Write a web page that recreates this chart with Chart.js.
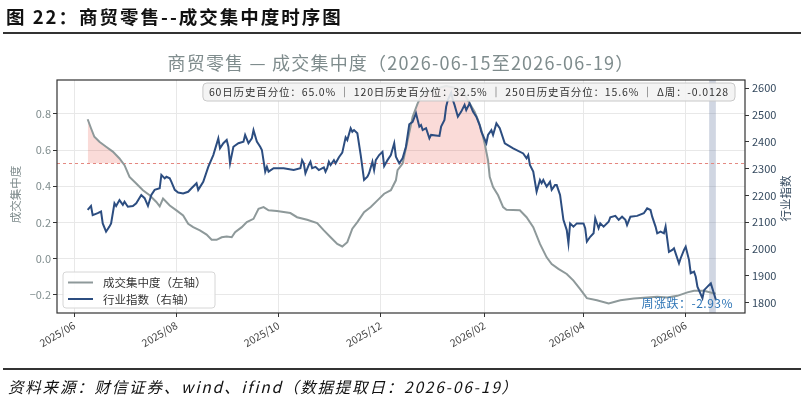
<!DOCTYPE html>
<html>
<head>
<meta charset="utf-8">
<script src="https://cdn.jsdelivr.net/npm/chart.js@4.4.1/dist/chart.umd.min.js"></script>
<style>
  body { margin: 0; background: #fff; width: 804px; height: 402px; overflow: hidden; position: relative; font-family: "Noto Sans CJK SC", sans-serif; }
  #chart { position: absolute; left: 0; top: 0; }
  #head { position: absolute; left: 6px; top: 3px; font-size: 18.5px; font-weight: bold; color: #111; white-space: nowrap; letter-spacing: 2px; }
  .rule { position: absolute; left: 3px; width: 798px; height: 2px; background: #333; }
  #foot { position: absolute; left: 8px; top: 375px; font-size: 15.5px; font-style: italic; color: #111; letter-spacing: 1.8px; white-space: nowrap; }
</style>
</head>
<body>
<canvas id="chart" width="804" height="402"></canvas>
<div id="head">图 22：商贸零售--成交集中度时序图</div>
<div class="rule" style="top:32px"></div>
<div class="rule" style="top:368px"></div>
<div id="foot">资料来源：财信证券、wind、ifind（数据提取日：2026-06-19）</div>
<script>
// 行业指数（右轴）
const indexDates = [
  '2025-06-09','2025-06-11','2025-06-12','2025-06-15','2025-06-17','2025-06-18','2025-06-20','2025-06-22','2025-06-23','2025-06-25',
  '2025-06-26','2025-06-28','2025-06-30','2025-07-01','2025-07-03','2025-07-06','2025-07-08','2025-07-11','2025-07-13','2025-07-15',
  '2025-07-17','2025-07-19','2025-07-22','2025-07-23','2025-07-25','2025-07-26','2025-07-28','2025-07-29','2025-07-31','2025-08-02',
  '2025-08-05','2025-08-08','2025-08-10','2025-08-13','2025-08-14','2025-08-17','2025-08-20','2025-08-23','2025-08-26','2025-08-27',
  '2025-08-29','2025-08-31','2025-09-01','2025-09-02','2025-09-04','2025-09-07','2025-09-10','2025-09-11','2025-09-13','2025-09-15',
  '2025-09-16','2025-09-18','2025-09-20','2025-09-21','2025-09-23','2025-09-24','2025-09-25','2025-09-28','2025-10-04','2025-10-10',
  '2025-10-14','2025-10-15','2025-10-16','2025-10-17','2025-10-19','2025-10-20','2025-10-21','2025-10-23','2025-10-25','2025-10-28',
  '2025-10-29','2025-10-30','2025-10-31','2025-11-01','2025-11-03','2025-11-04','2025-11-06','2025-11-08','2025-11-10','2025-11-11',
  '2025-11-13','2025-11-14','2025-11-15','2025-11-17','2025-11-19','2025-11-21','2025-11-23','2025-11-24','2025-11-26','2025-11-27',
  '2025-11-28','2025-11-30','2025-12-02','2025-12-03','2025-12-05','2025-12-07','2025-12-09','2025-12-10','2025-12-12','2025-12-14',
  '2025-12-16','2025-12-18','2025-12-20','2025-12-22','2025-12-24','2025-12-25','2025-12-26','2025-12-28','2025-12-30','2025-12-31',
  '2026-01-05','2026-01-06','2026-01-08','2026-01-09','2026-01-10','2026-01-12','2026-01-13','2026-01-14','2026-01-16','2026-01-18',
  '2026-01-20','2026-01-21','2026-01-23','2026-01-25','2026-01-27','2026-01-29','2026-01-30','2026-02-02','2026-02-03','2026-02-05',
  '2026-02-06','2026-02-08','2026-02-10','2026-02-13','2026-02-18','2026-02-24','2026-02-26','2026-02-27','2026-02-28','2026-03-02',
  '2026-03-04','2026-03-06','2026-03-07','2026-03-08','2026-03-10','2026-03-12','2026-03-13','2026-03-15','2026-03-16','2026-03-18',
  '2026-03-20','2026-03-22','2026-03-23','2026-03-24','2026-03-26','2026-03-28','2026-03-30','2026-04-01','2026-04-02','2026-04-03',
  '2026-04-05','2026-04-07','2026-04-08','2026-04-10','2026-04-11','2026-04-13','2026-04-16','2026-04-17','2026-04-20','2026-04-22',
  '2026-04-24','2026-04-26','2026-04-27','2026-04-29','2026-05-03','2026-05-07','2026-05-09','2026-05-11','2026-05-12','2026-05-14',
  '2026-05-15','2026-05-17','2026-05-19','2026-05-20','2026-05-22','2026-05-24','2026-05-25','2026-05-26','2026-05-28','2026-05-29',
  '2026-05-31','2026-06-01','2026-06-03','2026-06-04','2026-06-06','2026-06-07','2026-06-08','2026-06-11','2026-06-12','2026-06-14',
  '2026-06-15','2026-06-16','2026-06-19'
];
const indexValues = [
  2146,2161,2127,2134,2140,2096,2065,2084,2096,2171,
  2161,2183,2165,2177,2158,2161,2171,2202,2190,2161,
  2202,2221,2227,2277,2264,2270,2264,2251,2221,2211,
  2208,2214,2227,2246,2221,2251,2307,2351,2413,2376,
  2395,2407,2382,2320,2382,2395,2401,2426,2395,2413,
  2444,2401,2382,2370,2289,2307,2289,2302,2302,2295,
  2302,2332,2320,2283,2314,2326,2302,2307,2295,2305,
  2289,2302,2326,2314,2332,2320,2343,2360,2417,2407,
  2451,2438,2444,2432,2351,2258,2270,2283,2326,2295,
  2332,2351,2363,2310,2332,2351,2395,2345,2320,2339,
  2382,2466,2475,2507,2457,2463,2444,2451,2413,2426,
  2422,2457,2482,2531,2556,2584,2556,2538,2494,2513,
  2538,2519,2544,2513,2494,2463,2438,2395,2426,2444,
  2426,2469,2451,2395,2376,2357,2339,2351,2314,2289,
  2214,2258,2246,2258,2233,2251,2221,2239,2239,2202,
  2109,2071,2022,2096,2084,2096,2096,2096,2078,2028,
  2046,2059,2115,2078,2096,2084,2102,2119,2124,2109,
  2121,2109,2090,2121,2124,2134,2152,2146,2121,2084,
  2059,2065,2059,2084,1990,1997,2003,1984,1947,1966,
  1997,2009,1959,1910,1916,1897,1860,1817,1847,1860,
  1866,1872,1811
];

// 成交集中度（左轴）
const concDates = [
  '2025-06-09','2025-06-11','2025-06-13','2025-06-16','2025-06-20','2025-06-24','2025-06-28','2025-07-01','2025-07-04','2025-07-08',
  '2025-07-12','2025-07-16','2025-07-20','2025-07-22','2025-07-24','2025-07-28','2025-08-01','2025-08-05','2025-08-08','2025-08-11',
  '2025-08-15','2025-08-19','2025-08-22','2025-08-25','2025-08-28','2025-08-31','2025-09-03','2025-09-05','2025-09-09','2025-09-12',
  '2025-09-16','2025-09-19','2025-09-22','2025-09-25','2025-09-30','2025-10-08','2025-10-12','2025-10-18','2025-10-24','2025-10-28',
  '2025-11-01','2025-11-05','2025-11-08','2025-11-11','2025-11-14','2025-11-17','2025-11-21','2025-11-25','2025-11-29','2025-12-03',
  '2025-12-07','2025-12-10','2025-12-11','2025-12-14','2025-12-16','2025-12-20','2025-12-23','2025-12-25','2025-12-28','2025-12-31',
  '2026-01-05','2026-01-09','2026-01-14','2026-01-19','2026-01-23','2026-01-26','2026-01-28','2026-01-30','2026-02-01','2026-02-03',
  '2026-02-04','2026-02-06','2026-02-09','2026-02-12','2026-02-14','2026-02-22','2026-02-26','2026-03-02','2026-03-06','2026-03-10',
  '2026-03-13','2026-03-17','2026-03-22','2026-03-26','2026-03-30','2026-04-03','2026-04-09','2026-04-16','2026-04-23','2026-05-01',
  '2026-05-09','2026-05-15','2026-05-21','2026-05-27','2026-06-02','2026-06-06','2026-06-12','2026-06-18','2026-06-19'
];
const concValues = [
  0.771,0.721,0.674,0.646,0.619,0.592,0.554,0.517,0.452,0.415,
  0.378,0.350,0.313,0.289,0.332,0.294,0.267,0.239,0.193,0.174,
  0.156,0.133,0.104,0.104,0.118,0.122,0.118,0.146,0.174,0.202,
  0.220,0.276,0.285,0.267,0.263,0.252,0.229,0.215,0.196,0.156,
  0.118,0.081,0.067,0.091,0.165,0.202,0.257,0.285,0.322,0.359,
  0.378,0.433,0.489,0.526,0.610,0.785,0.859,0.896,0.915,0.930,
  0.945,0.955,0.945,0.925,0.859,0.813,0.767,0.711,0.637,0.544,
  0.452,0.396,0.350,0.285,0.270,0.267,0.229,0.174,0.081,0.007,
  -0.030,-0.057,-0.085,-0.122,-0.169,-0.219,-0.230,-0.248,-0.230,-0.221,
  -0.215,-0.211,-0.215,-0.206,-0.187,-0.178,-0.178,-0.193,-0.191
];

const THRESHOLD = 0.526;               // 红色虚线
const leftTicks = [-0.2, 0, 0.2, 0.4, 0.6, 0.8];
const leftTickLabels = ['\u22120.2', '0.0', '0.2', '0.4', '0.6', '0.8'];
const rightTicks = [1800, 1900, 2000, 2100, 2200, 2300, 2400, 2500, 2600];
const monthTicks = ['2025-06-01','2025-08-01','2025-10-01','2025-12-01','2026-02-01','2026-04-01','2026-06-01'];
const weekStart = '2026-06-15';
const weekEnd = '2026-06-19';
const chartTitle = '商贸零售 — 成交集中度（2026-06-15至2026-06-19）';
const statsText = '60日历史百分位：65.0% ｜ 120日历史百分位：32.5% ｜ 250日历史百分位：15.6% ｜ Δ周：-0.0128';
const weekChangeText = '周涨跌：-2.93%';
const legendLabels = ['成交集中度（左轴）', '行业指数（右轴）'];

const DAY = 86400000;
function ts(s) { return Date.parse(s + 'T00:00:00Z'); }

const xMin = ts('2025-05-21') + 0.7 * DAY;
const xMax = ts('2026-07-06') + 0.4 * DAY;

const GRAY = '#8e999a';
const BLUE = '#2c4d80';
const FONT = '"Noto Sans CJK SC", sans-serif';

// 叠加层：本周区间、外框、标题、轴标题、图例、统计框
const overlay = {
  id: 'overlay',
  beforeDatasetsDraw(chart) {
    const { ctx, chartArea: a, scales } = chart;
    const x0 = scales.x.getPixelForValue(ts(weekStart));
    const x1 = scales.x.getPixelForValue(ts(weekEnd));
    ctx.save();
    ctx.fillStyle = 'rgba(100,120,160,0.3)';
    ctx.fillRect(x0, a.top, x1 - x0, a.bottom - a.top);
    ctx.restore();
  },
  afterDraw(chart) {
    const { ctx, chartArea: a } = chart;
    ctx.save();

    // 外框
    ctx.strokeStyle = '#333';
    ctx.lineWidth = 1.2;
    ctx.strokeRect(a.left, a.top, a.right - a.left, a.bottom - a.top);

    // 标题
    ctx.fillStyle = '#7f8c8d';
    ctx.font = '18px ' + FONT;
    ctx.letterSpacing = '1.2px';
    ctx.textAlign = 'center';
    ctx.textBaseline = 'middle';
    ctx.fillText(chartTitle, (a.left + a.right) / 2, 63);
    ctx.letterSpacing = '0px';

    // 轴标题
    ctx.font = '11.5px ' + FONT;
    ctx.save();
    ctx.translate(16, (a.top + a.bottom) / 2 - 2);
    ctx.rotate(-Math.PI / 2);
    ctx.fillStyle = '#7f8c8d';
    ctx.fillText('成交集中度', 0, 0);
    ctx.restore();
    ctx.save();
    ctx.translate(786, (a.top + a.bottom) / 2 + 2);
    ctx.rotate(-Math.PI / 2);
    ctx.fillStyle = '#34495e';
    ctx.fillText('行业指数', 0, 0);
    ctx.restore();

    // 统计框
    ctx.font = '10.5px ' + FONT;
    ctx.letterSpacing = '0.85px';
    const tw = ctx.measureText(statsText).width;
    const bx1 = a.right - 10, bx0 = bx1 - tw - 12, by0 = a.top + 3, bh = 18;
    ctx.beginPath();
    ctx.roundRect(bx0, by0, bx1 - bx0, bh, 4);
    ctx.fillStyle = 'rgba(242,242,242,0.88)';
    ctx.fill();
    ctx.strokeStyle = '#c8c8c8';
    ctx.lineWidth = 1;
    ctx.stroke();
    ctx.fillStyle = '#333';
    ctx.textAlign = 'right';
    ctx.fillText(statsText, bx1 - 6, by0 + bh / 2 + 0.5);

    // 周涨跌
    ctx.font = '12px ' + FONT;
    ctx.letterSpacing = '0.5px';
    ctx.fillStyle = '#2e75b6';
    ctx.fillText(weekChangeText, a.right - 12, a.bottom - 10);
    ctx.letterSpacing = '0px';

    // 图例
    const lx = a.left + 6, ly = a.bottom - 41, lw = 152, lh = 36;
    ctx.beginPath();
    ctx.roundRect(lx, ly, lw, lh, 3);
    ctx.fillStyle = 'rgba(255,255,255,0.9)';
    ctx.fill();
    ctx.strokeStyle = '#d6d6d6';
    ctx.stroke();
    const colors = [GRAY, BLUE];
    ctx.font = '11.5px ' + FONT;
    ctx.textAlign = 'left';
    legendLabels.forEach((lab, i) => {
      const yy = ly + 10.5 + i * 16.5;
      ctx.strokeStyle = colors[i];
      ctx.lineWidth = 2;
      ctx.beginPath();
      ctx.moveTo(lx + 5, yy);
      ctx.lineTo(lx + 30, yy);
      ctx.stroke();
      ctx.fillStyle = '#333';
      ctx.fillText(lab, lx + 40, yy + 0.5);
    });
    ctx.restore();
  }
};

const ctxChart = document.getElementById('chart').getContext('2d');
new Chart(ctxChart, {
  type: 'line',
  data: {
    datasets: [
      {
        label: legendLabels[1],
        data: indexDates.map((d, i) => ({ x: ts(d), y: indexValues[i] })),
        yAxisID: 'y1',
        borderColor: BLUE,
        borderWidth: 2,
        pointRadius: 0,
        tension: 0,
        order: 0
      },
      {
        label: legendLabels[0],
        data: concDates.map((d, i) => ({ x: ts(d), y: concValues[i] })),
        yAxisID: 'y',
        borderColor: GRAY,
        borderWidth: 2,
        pointRadius: 0,
        tension: 0,
        fill: { target: { value: THRESHOLD }, above: 'rgba(231,76,60,0.2)', below: 'rgba(0,0,0,0)' },
        order: 1
      },
      {
        label: 'threshold',
        data: [{ x: xMin, y: THRESHOLD }, { x: xMax, y: THRESHOLD }],
        yAxisID: 'y',
        borderColor: '#e48a82',
        backgroundColor: '#e48a82',
        borderWidth: 1,
        borderDash: [3, 3],
        pointRadius: 0,
        fill: false,
        order: 2
      }
    ]
  },
  options: {
    responsive: false,
    devicePixelRatio: 1,
    animation: false,
    layout: { padding: { top: 80, left: 0, right: 0, bottom: 0 } },
    plugins: { legend: { display: false }, tooltip: { enabled: false }, title: { display: false } },
    scales: {
      x: {
        type: 'linear',
        min: xMin,
        max: xMax,
        afterFit: s => { s.height = 89; },
        afterBuildTicks: s => { s.ticks = monthTicks.map(d => ({ value: ts(d) })); },
        ticks: {
          autoSkip: false,
          minRotation: 30,
          maxRotation: 30,
          padding: 2,
          color: '#444',
          font: { family: FONT, size: 10.5 },
          callback: v => {
            const d = new Date(v);
            return d.getUTCFullYear() + '/' + String(d.getUTCMonth() + 1).padStart(2, '0');
          }
        },
        grid: { color: '#e8e8e8', tickLength: 4, tickColor: '#333' },
        border: { display: false }
      },
      y: {
        position: 'left',
        min: -0.301,
        max: 0.988,
        afterFit: s => { s.width = 57; },
        afterBuildTicks: s => { s.ticks = leftTicks.map(v => ({ value: v })); },
        ticks: {
          padding: 2,
          color: '#7f8c8d',
          font: { family: FONT, size: 11 },
          callback: v => leftTickLabels[leftTicks.findIndex(t => Math.abs(t - v) < 1e-9)]
        },
        grid: { color: '#e8e8e8', tickLength: 4, tickColor: '#333' },
        border: { display: false }
      },
      y1: {
        position: 'right',
        min: 1761.6,
        max: 2631,
        afterFit: s => { s.width = 59; },
        afterBuildTicks: s => { s.ticks = rightTicks.map(v => ({ value: v })); },
        ticks: {
          padding: 3,
          color: '#34495e',
          font: { family: FONT, size: 11 },
          callback: v => String(v)
        },
        grid: { drawOnChartArea: false, tickLength: 4, tickColor: '#333' },
        border: { display: false }
      }
    }
  },
  plugins: [overlay]
});
</script>
</body>
</html>
